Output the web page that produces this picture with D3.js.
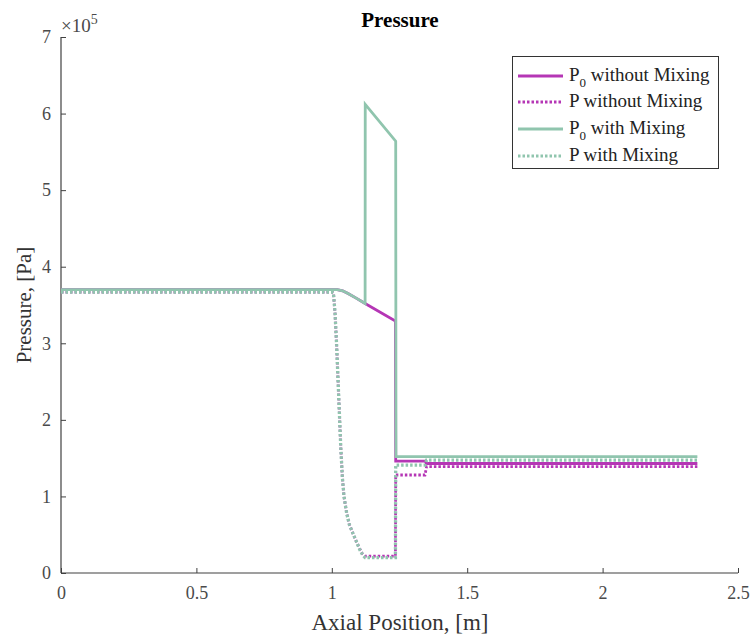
<!DOCTYPE html>
<html><head><meta charset="utf-8">
<script src="https://cdn.jsdelivr.net/npm/d3@7/dist/d3.min.js"></script>
<style>body{margin:0;background:#fff}svg text{font-family:"Liberation Serif","Times New Roman",serif}</style>
</head><body><svg id="c" width="754" height="639"></svg>
<script>
// ---- data (pressure in Pa, position in m) ----
const xP0NoMix = [0, 1.0, 1.02, 1.04, 1.06, 1.09, 1.123, 1.235, 1.236, 1.345, 1.35, 2.35];
const yP0NoMix = [3.70e5, 3.70e5, 3.70e5, 3.685e5, 3.65e5, 3.59e5, 3.52e5, 3.29e5, 1.46e5, 1.46e5, 1.43e5, 1.43e5];

const xPNoMix = [0, 1.0, 1.006, 1.012, 1.018, 1.028, 1.033, 1.039, 1.045, 1.055, 1.065, 1.08, 1.092, 1.104, 1.113, 1.123, 1.235, 1.236, 1.344, 1.35, 2.35];
const yPNoMix = [3.67e5, 3.67e5, 3.66e5, 3.39e5, 2.96e5, 2.09e5, 1.65e5, 1.25e5, 1.0e5, 0.78e5, 0.63e5, 0.50e5, 0.40e5, 0.31e5, 0.25e5, 0.22e5, 0.22e5, 1.28e5, 1.28e5, 1.39e5, 1.39e5];

const xP0Mix = [0, 1.0, 1.02, 1.04, 1.06, 1.09, 1.123, 1.1235, 1.236, 1.237, 2.35];
const yP0Mix = [3.70e5, 3.70e5, 3.70e5, 3.685e5, 3.65e5, 3.59e5, 3.52e5, 6.12e5, 5.64e5, 1.52e5, 1.52e5];

const xPMix = [0, 1.0, 1.006, 1.012, 1.018, 1.028, 1.033, 1.039, 1.045, 1.055, 1.065, 1.08, 1.092, 1.104, 1.113, 1.123, 1.235, 1.236, 1.344, 1.35, 2.35];
const yPMix = [3.67e5, 3.67e5, 3.66e5, 3.39e5, 2.96e5, 2.09e5, 1.65e5, 1.25e5, 1.0e5, 0.78e5, 0.63e5, 0.50e5, 0.40e5, 0.30e5, 0.24e5, 0.20e5, 0.20e5, 1.41e5, 1.41e5, 1.475e5, 1.475e5];

const xTicks = [0, 0.5, 1, 1.5, 2, 2.5];
const yTicks = [0, 1, 2, 3, 4, 5, 6, 7];
const seriesNames = ["without Mixing", "P without Mixing", "with Mixing", "P with Mixing"];

const magenta = "#b536b5", green = "#90c5ae";
const series = [
  {x: xP0NoMix, y: yP0NoMix, color: magenta, dash: null, sub: true, label: seriesNames[0], w: 2.8},
  {x: xPNoMix, y: yPNoMix, color: magenta, dash: "2.5,2", sub: false, label: seriesNames[1], w: 2.8},
  {x: xP0Mix, y: yP0Mix, color: green, dash: null, sub: true, label: seriesNames[2], w: 2.8},
  {x: xPMix, y: yPMix, color: green, dash: "2.5,2", sub: false, label: seriesNames[3], w: 3.3}
];

const svg = d3.select("#c");
const L = 61, R = 738, T = 37, B = 573;
const x = d3.scaleLinear().domain([0, 2.5]).range([L, R]);
const y = d3.scaleLinear().domain([0, 7e5]).range([B, T]);
const axisCol = "#404040", tickTxt = "#4a4a4a";

// axes
const gx = svg.append("g").attr("transform", `translate(0,${B})`)
  .call(d3.axisBottom(x).tickValues(xTicks).tickSize(-5).tickPadding(13).tickFormat(d => d3.format("")(d)));
const gy = svg.append("g").attr("transform", `translate(${L},0)`)
  .call(d3.axisLeft(y).tickValues(yTicks.map(v => v * 1e5)).tickSize(-5).tickPadding(10).tickFormat(d => d / 1e5));
[gx, gy].forEach(g => {
  g.select(".domain").attr("stroke", axisCol).attr("stroke-width", 1.2);
  g.selectAll(".tick line").attr("stroke", axisCol).attr("stroke-width", 1);
  g.selectAll(".tick text").attr("fill", tickTxt).attr("font-size", 18)
    .style("font-family", '"Liberation Serif",serif');
});
gx.select(".domain").attr("d", `M${L},0H${R}`);
gy.select(".domain").attr("d", `M0,${T}V${B}`);

// exponent
const ex = svg.append("text").attr("x", 61).attr("y", 32).attr("fill", tickTxt).attr("font-size", 19);
ex.append("tspan").text("\u00d710");
ex.append("tspan").attr("dy", -8).attr("font-size", 14).text("5");

// lines
const line = d3.line().x(d => x(d[0])).y(d => y(d[1]));
series.forEach(s => {
  const pts = s.x.map((v, i) => [v, s.y[i]]);
  const p = svg.append("path").datum(pts).attr("d", line).attr("fill", "none")
    .attr("stroke", s.color).attr("stroke-width", s.w).attr("stroke-linejoin", "miter");
  if (s.dash) p.attr("stroke-dasharray", s.dash);
});

// title & labels
svg.append("text").attr("x", 400).attr("y", 27).attr("text-anchor", "middle")
  .attr("font-size", 21).attr("font-weight", "bold").attr("fill", "#000").text("Pressure");
svg.append("text").attr("x", 400).attr("y", 630).attr("text-anchor", "middle")
  .attr("font-size", 23).attr("fill", "#333").text("Axial Position, [m]");
svg.append("text").attr("transform", "translate(31,305) rotate(-90)").attr("text-anchor", "middle")
  .attr("font-size", 21).attr("fill", "#333").text("Pressure, [Pa]");

// legend
const lg = svg.append("g");
lg.append("rect").attr("x", 512.5).attr("y", 56.5).attr("width", 206).attr("height", 112)
  .attr("fill", "#fff").attr("stroke", "#333").attr("stroke-width", 1);
const ly = [76, 102, 129, 156];
series.forEach((s, i) => {
  const l = lg.append("line").attr("x1", 518).attr("x2", 563).attr("y1", ly[i]).attr("y2", ly[i])
    .attr("stroke", s.color).attr("stroke-width", 2.8);
  if (s.dash) l.attr("stroke-dasharray", s.dash);
  const t = lg.append("text").attr("x", 569).attr("y", ly[i] + 5).attr("font-size", 19).attr("fill", "#222");
  if (s.sub) {
    t.append("tspan").text("P");
    t.append("tspan").attr("dy", 6).attr("font-size", 13).text("0");
    t.append("tspan").attr("dy", -6).text(" " + s.label);
  } else {
    t.text(s.label);
  }
});
</script></body></html>
